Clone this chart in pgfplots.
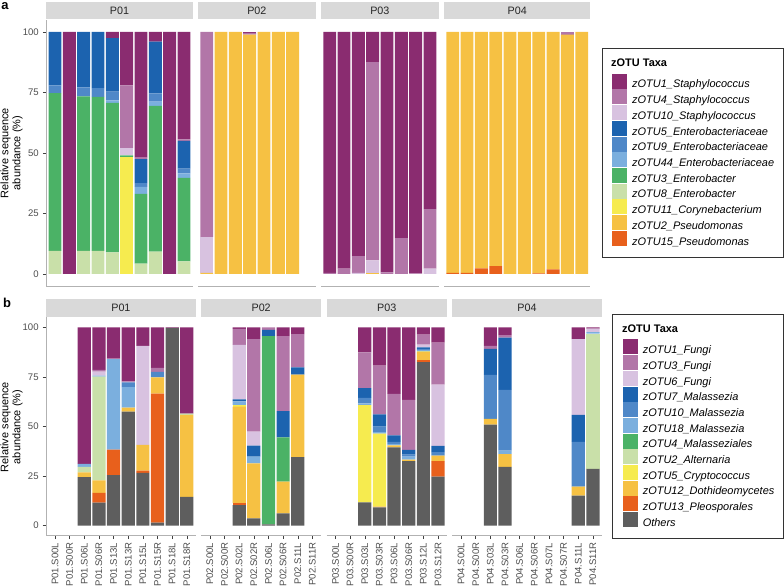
\documentclass[border=0pt]{standalone}
\usepackage{pgfplots}
\pgfplotsset{compat=1.18}
\usepackage{pgfplotstable}
\usepackage{fontspec}
\setmainfont{Liberation Sans}

\definecolor{cPurple}{HTML}{8A2C70}
\definecolor{cMauve}{HTML}{B276A8}
\definecolor{cLilac}{HTML}{D8C2E0}
\definecolor{cBlue}{HTML}{1C63AF}
\definecolor{cMidBlue}{HTML}{4F88C8}
\definecolor{cSky}{HTML}{7BAFDE}
\definecolor{cGreen}{HTML}{4BB266}
\definecolor{cPale}{HTML}{C9E0A9}
\definecolor{cYellow}{HTML}{F6EB4F}
\definecolor{cGold}{HTML}{F6C143}
\definecolor{cOrange}{HTML}{E8601C}
\definecolor{cGrey}{HTML}{5E5E5E}
\definecolor{stripgray}{HTML}{D9D9D9}
\definecolor{ticktext}{HTML}{4D4D4D}

\newcommand\tickfont{\fontsize{9.6}{11}\selectfont}
\newcommand\stripfont{\fontsize{10.8}{12}\selectfont}
\newcommand\legfont{\fontsize{11}{13}\selectfont}

% panel a: bacterial zOTUs, one table per facet
\pgfplotstableread{
x o15 o2 o11 o8 o3 o44 o9 o5 o10 o4 o1
0 0 0 0 9.5 65.2 0 3.2 22.1 0 0 0
1 0 0 0 0 0 0 0 0 0 0 100
2 0 0 0 9.5 63.9 0 3.7 22.9 0 0 0
3 0 0 0 9.5 63.7 0 3.6 23.2 0 0 0
4 0 0 0 8.9 61.8 1.0 3.7 22.1 0 0 2.5
5 0 0 48.4 0 0.6 0 0 0 2.9 26.0 22.1
6 0 0 0 4.3 28.8 2.9 1.5 10.0 0 0.6 51.9
7 0 0 0 9.2 60.3 1.7 3.4 21.4 0 0 4.0
8 0 0 0 0 0 0 0 0 0 0 100
9 0 0 0 5.2 34.5 1.9 1.9 11.5 0 0.6 44.4
}\topA
\pgfplotstableread{
x o15 o2 o11 o8 o3 o44 o9 o5 o10 o4 o1
0 0 0.5 0 0 0 0 0 0 14.8 84.7 0
1 0 100 0 0 0 0 0 0 0 0 0
2 0 100 0 0 0 0 0 0 0 0 0
3 0 98.9 0 0 0 0 0 0 0 0.7 0.4
4 0 100 0 0 0 0 0 0 0 0 0
5 0 100 0 0 0 0 0 0 0 0 0
6 0 100 0 0 0 0 0 0 0 0 0
7 0 0 0 0 0 0 0 0 0 0 0
}\topB
\pgfplotstableread{
x o15 o2 o11 o8 o3 o44 o9 o5 o10 o4 o1
0 0 0 0 0 0 0 0 0 0 0.5 99.5
1 0 0 0 0 0 0 0 0 0 2.2 97.8
2 0 0 0 0 0 0 0 0 0.5 6.9 92.6
3 0 0.3 0 0 0 0 0 0 5.3 81.9 12.5
4 0 0 0 0 0 0 0 0 0 0.7 99.3
5 0 0 0 0 0 0 0 0 0 14.8 85.2
6 0 0 0 0 0 0 0 0 0 0.3 99.7
7 0 0 0 0 0 0 0 0 2.2 24.6 73.2
}\topC
\pgfplotstableread{
x o15 o2 o11 o8 o3 o44 o9 o5 o10 o4 o1
0 0.5 99.5 0 0 0 0 0 0 0 0 0
1 0.5 99.5 0 0 0 0 0 0 0 0 0
2 2.3 97.7 0 0 0 0 0 0 0 0 0
3 3.2 96.8 0 0 0 0 0 0 0 0 0
4 0 100 0 0 0 0 0 0 0 0 0
5 0 100 0 0 0 0 0 0 0 0 0
6 0.3 99.7 0 0 0 0 0 0 0 0 0
7 1.9 98.1 0 0 0 0 0 0 0 0 0
8 0 98.9 0 0 0 0 0 0 0 1.1 0
9 0 100 0 0 0 0 0 0 0 0 0
}\topD

% panel b: fungal zOTUs
\pgfplotstableread{
x oth o13 o12 o5 o2 o4 o18 o10 o7 o6 o3 o1
0 0 0 0 0 0 0 0 0 0 0 0 0
1 0 0 0 0 0 0 0 0 0 0 0 0
2 24.5 0 2.4 0 2.7 0 1.5 0 0 0 0 68.9
3 11.6 4.9 6.4 0 52.2 0 0.5 0 0 2.0 0.9 21.5
4 25.5 12.8 0 0 0 0 45.6 0 0 0 0.3 15.8
5 57.5 0 2.0 0 0 0 10.4 2.4 0 0 0.5 27.2
6 26.6 1.1 13.0 0 0 0 0 0 0 49.9 0 9.4
7 1.5 65.1 8.2 0 0 0 0 2.7 0 0 2.0 20.5
8 99.7 0 0 0 0 0 0 0 0 0 0 0.3
9 14.5 0 41.3 0 0.7 0 0 0 0 0 0 43.5
}\botA
\pgfplotstableread{
x oth o13 o12 o5 o2 o4 o18 o10 o7 o6 o3 o1
0 0 0 0 0 0 0 0 0 0 0 0 0
1 0 0 0 0 0 0 0 0 0 0 0 0
2 10.3 1.1 48.6 0.8 0 0 1.9 0 1.0 27.4 8.1 0.8
3 3.7 0 27.7 0 0 0 3.4 0 5.5 7.1 46.7 5.9
4 0.7 0 0 0 0 94.9 0 0 3.1 0 1.3 0
5 6.2 0 16.0 0 0 22.3 0 0 13.3 0 37.8 4.4
6 34.5 0 41.6 0 0 0 0 0 3.7 0 16.8 3.4
7 0 0 0 0 0 0 0 0 0 0 0 0
}\botB
\pgfplotstableread{
x oth o13 o12 o5 o2 o4 o18 o10 o7 o6 o3 o1
0 0 0 0 0 0 0 0 0 0 0 0 0
1 0 0 0 0 0 0 0 0 0 0 0 0
2 11.8 0 0 49.0 0 0 0.9 2.7 5.0 0 18.0 12.6
3 9.2 0 0.5 36.7 0 0 0.8 2.7 6.2 0 24.6 19.3
4 39.5 0 1.0 0 0 0 0.6 1.1 3.3 0 20.9 33.6
5 32.6 0 0.7 0 0 0 1.5 1.0 2.4 0 25.2 36.6
6 82.4 1.0 4.3 0 0.3 0 0.6 0.5 0.8 1.4 5.0 3.7
7 24.7 7.9 2.7 0 0 0 0 1.8 3.1 30.9 21.2 7.7
}\botC
\pgfplotstableread{
x oth o13 o12 o5 o2 o4 o18 o10 o7 o6 o3 o1
0 0 0 0 0 0 0 0 0 0 0 0 0
1 0 0 0 0 0 0 0 0 0 0 0 0
2 50.9 0 3.0 0 0 0 0 22.1 13.1 0 1.5 9.4
3 29.7 0 6.4 0 0 0 1.7 30.6 26.4 0 1.3 3.9
4 0 0 0 0 0 0 0 0 0 0 0 0
5 0 0 0 0 0 0 0 0 0 0 0 0
6 0 0 0 0 0 0 0 0 0 0 0 0
7 0 0 0 0 0 0 0 0 0 0 0 0
8 15.1 0 4.6 0 0 0 0 22.5 13.6 38.3 0 5.9
9 28.6 0 0 0 68.2 0 0.8 0 0 1.7 0 0.7
}\botD

\newcommand\topbars[1]{%
  \addplot[fill=cOrange,draw=none,forget plot] table[x=x,y=o15]{#1};
  \addplot[fill=cGold,draw=none,forget plot] table[x=x,y=o2]{#1};
  \addplot[fill=cYellow,draw=none,forget plot] table[x=x,y=o11]{#1};
  \addplot[fill=cPale,draw=none,forget plot] table[x=x,y=o8]{#1};
  \addplot[fill=cGreen,draw=none,forget plot] table[x=x,y=o3]{#1};
  \addplot[fill=cSky,draw=none,forget plot] table[x=x,y=o44]{#1};
  \addplot[fill=cMidBlue,draw=none,forget plot] table[x=x,y=o9]{#1};
  \addplot[fill=cBlue,draw=none,forget plot] table[x=x,y=o5]{#1};
  \addplot[fill=cLilac,draw=none,forget plot] table[x=x,y=o10]{#1};
  \addplot[fill=cMauve,draw=none,forget plot] table[x=x,y=o4]{#1};
  \addplot[fill=cPurple,draw=none,forget plot] table[x=x,y=o1]{#1};
}
\newcommand\botbars[1]{%
  \addplot[fill=cGrey,draw=none,forget plot] table[x=x,y=oth]{#1};
  \addplot[fill=cOrange,draw=none,forget plot] table[x=x,y=o13]{#1};
  \addplot[fill=cGold,draw=none,forget plot] table[x=x,y=o12]{#1};
  \addplot[fill=cYellow,draw=none,forget plot] table[x=x,y=o5]{#1};
  \addplot[fill=cPale,draw=none,forget plot] table[x=x,y=o2]{#1};
  \addplot[fill=cGreen,draw=none,forget plot] table[x=x,y=o4]{#1};
  \addplot[fill=cSky,draw=none,forget plot] table[x=x,y=o18]{#1};
  \addplot[fill=cMidBlue,draw=none,forget plot] table[x=x,y=o10]{#1};
  \addplot[fill=cBlue,draw=none,forget plot] table[x=x,y=o7]{#1};
  \addplot[fill=cLilac,draw=none,forget plot] table[x=x,y=o6]{#1};
  \addplot[fill=cMauve,draw=none,forget plot] table[x=x,y=o3]{#1};
  \addplot[fill=cPurple,draw=none,forget plot] table[x=x,y=o1]{#1};
}

\pgfplotsset{
  /pgf/number format/assume math mode=true,
  facet/.style={
    scale only axis, anchor=south west,
    ybar stacked, bar width=0.9,
    enlargelimits=false, xmin=-0.6, ymin=-5, ymax=105,
    axis x line*=bottom, axis y line*=left,
    axis line style={draw=black!30, line width=0.7bp},
    xtick=\empty,
    tick align=outside, major tick length=3.6bp,
    tick style={draw=black!75, line width=0.5bp},
    ticklabel style={font=\tickfont, text=ticktext},
    yticklabel style={xshift=-0.5bp},
    xticklabel style={rotate=90, anchor=east},
  },
  leftaxis/.style={ytick={0,25,50,75,100}},
  noy/.style={ytick=\empty, y axis line style={draw=none}},
  toppanel/.style={facet, height=266.2bp},
  botpanel/.style={facet, height=218.2bp},
  sqlegend/.style={legend image code/.code={\fill[##1] (0bp,-4bp) rectangle (15bp,11bp);}},
  legbox/.style={legend style={draw=none, fill=none, inner sep=0pt, anchor=north west,
    font=\legfont\itshape, row sep=0bp, column sep=5.3bp,
    nodes={inner sep=0pt}}, legend cell align=left},
}

\begin{document}
\begin{tikzpicture}[x=1bp,y=1bp]
\useasboundingbox (0,0) rectangle (784,586);

% ---------------- panel a ----------------
\begin{axis}[toppanel, leftaxis, at={(46.4bp,299.9bp)}, width=146.2bp, xmax=9.6]
\topbars{\topA}
\end{axis}
\begin{axis}[toppanel, noy, at={(198.1bp,299.9bp)}, width=117.5bp, xmax=7.6]
\topbars{\topB}
\end{axis}
\begin{axis}[toppanel, noy, at={(321.1bp,299.9bp)}, width=117.5bp, xmax=7.6]
\topbars{\topC}
\end{axis}
\begin{axis}[toppanel, noy, at={(444.1bp,299.9bp)}, width=146.2bp, xmax=9.6,
  legbox, legend style={at={(axis description cs:1.1464,0.7986)}}]
\topbars{\topD}
\addlegendimage{sqlegend, fill=cPurple, draw=none}\addlegendentry{zOTU1\_Staphylococcus}
\addlegendimage{sqlegend, fill=cMauve, draw=none}\addlegendentry{zOTU4\_Staphylococcus}
\addlegendimage{sqlegend, fill=cLilac, draw=none}\addlegendentry{zOTU10\_Staphylococcus}
\addlegendimage{sqlegend, fill=cBlue, draw=none}\addlegendentry{zOTU5\_Enterobacteriaceae}
\addlegendimage{sqlegend, fill=cMidBlue, draw=none}\addlegendentry{zOTU9\_Enterobacteriaceae}
\addlegendimage{sqlegend, fill=cSky, draw=none}\addlegendentry{zOTU44\_Enterobacteriaceae}
\addlegendimage{sqlegend, fill=cGreen, draw=none}\addlegendentry{zOTU3\_Enterobacter}
\addlegendimage{sqlegend, fill=cPale, draw=none}\addlegendentry{zOTU8\_Enterobacter}
\addlegendimage{sqlegend, fill=cYellow, draw=none}\addlegendentry{zOTU11\_Corynebacterium}
\addlegendimage{sqlegend, fill=cGold, draw=none}\addlegendentry{zOTU2\_Pseudomonas}
\addlegendimage{sqlegend, fill=cOrange, draw=none}\addlegendentry{zOTU15\_Pseudomonas}
\end{axis}

% ---------------- panel b ----------------
\begin{axis}[botpanel, leftaxis, at={(46.2bp,50.4bp)}, width=149.4bp, xmax=9.6,
  xtick={0,...,9},
  xticklabels={P01.S00L,P01.S00R,P01.S06L,P01.S06R,P01.S13L,P01.S13R,P01.S15L,P01.S15R,P01.S18L,P01.S18R}]
\botbars{\botA}
\end{axis}
\begin{axis}[botpanel, noy, at={(201.1bp,50.4bp)}, width=120.1bp, xmax=7.6,
  xtick={0,...,7},
  xticklabels={P02.S00L,P02.S00R,P02.S02L,P02.S02R,P02.S06L,P02.S06R,P02.S11L,P02.S11R}]
\botbars{\botB}
\end{axis}
\begin{axis}[botpanel, noy, at={(326.7bp,50.4bp)}, width=120.1bp, xmax=7.6,
  xtick={0,...,7},
  xticklabels={P03.S00L,P03.S00R,P03.S03L,P03.S03R,P03.S06L,P03.S06R,P03.S12L,P03.S12R}]
\botbars{\botC}
\end{axis}
\begin{axis}[botpanel, noy, at={(452.3bp,50.4bp)}, width=149.4bp, xmax=9.6,
  xtick={0,...,9},
  xticklabels={P04.S00L,P04.S00R,P04.S03L,P04.S03R,P04.S06L,P04.S06R,P04.S07L,P04.S07R,P04.S11L,P04.S11R},
  legbox, legend style={at={(axis description cs:1.1379,0.9001)}}]
\botbars{\botD}
\addlegendimage{sqlegend, fill=cPurple, draw=none}\addlegendentry{zOTU1\_Fungi}
\addlegendimage{sqlegend, fill=cMauve, draw=none}\addlegendentry{zOTU3\_Fungi}
\addlegendimage{sqlegend, fill=cLilac, draw=none}\addlegendentry{zOTU6\_Fungi}
\addlegendimage{sqlegend, fill=cBlue, draw=none}\addlegendentry{zOTU7\_Malassezia}
\addlegendimage{sqlegend, fill=cMidBlue, draw=none}\addlegendentry{zOTU10\_Malassezia}
\addlegendimage{sqlegend, fill=cSky, draw=none}\addlegendentry{zOTU18\_Malassezia}
\addlegendimage{sqlegend, fill=cGreen, draw=none}\addlegendentry{zOTU4\_Malasseziales}
\addlegendimage{sqlegend, fill=cPale, draw=none}\addlegendentry{zOTU2\_Alternaria}
\addlegendimage{sqlegend, fill=cYellow, draw=none}\addlegendentry{zOTU5\_Cryptococcus}
\addlegendimage{sqlegend, fill=cGold, draw=none}\addlegendentry{zOTU12\_Dothideomycetes}
\addlegendimage{sqlegend, fill=cOrange, draw=none}\addlegendentry{zOTU13\_Pleosporales}
\addlegendimage{sqlegend, fill=cGrey, draw=none}\addlegendentry{Others}
\end{axis}

% facet strips
\foreach \xa/\xb/\lab in {46.4/192.6/P01, 198.1/315.6/P02, 321.1/438.6/P03, 444.1/590.3/P04}{
  \fill[stripgray] (\xa,566.8) rectangle (\xb,584.3);
  \node[font=\stripfont, text=black!85] at ({(\xa+\xb)/2},575.5) {\lab};
}
\foreach \xa/\xb/\lab in {46.2/195.6/P01, 201.1/321.2/P02, 326.7/446.8/P03, 452.3/601.7/P04}{
  \fill[stripgray] (\xa,269.3) rectangle (\xb,286.7);
  \node[font=\stripfont, text=black!85] at ({(\xa+\xb)/2},278) {\lab};
}

% legend frames and titles
\draw[black!80, line width=0.7bp] (602,329) rectangle (783.5,538);
\node[anchor=west, font=\legfont\bfseries, inner sep=0pt] at (611,523.3) {zOTU Taxa};
\draw[black!80, line width=0.7bp] (612,48) rectangle (783.5,272);
\node[anchor=west, font=\legfont\bfseries, inner sep=0pt] at (622,257) {zOTU Taxa};

% axis titles and panel tags
\node[rotate=90, align=center, font=\fontsize{11}{12}\selectfont] at (11.5,433) {Relative sequence\\abundance (\%)};
\node[rotate=90, align=center, font=\fontsize{11}{12}\selectfont] at (11.5,159) {Relative sequence\\abundance (\%)};
\node[font=\fontsize{13}{14}\selectfont\bfseries, inner sep=0pt] at (5,580) {a};
\node[font=\fontsize{13}{14}\selectfont\bfseries, inner sep=0pt] at (7,283) {b};
\end{tikzpicture}
\end{document}
